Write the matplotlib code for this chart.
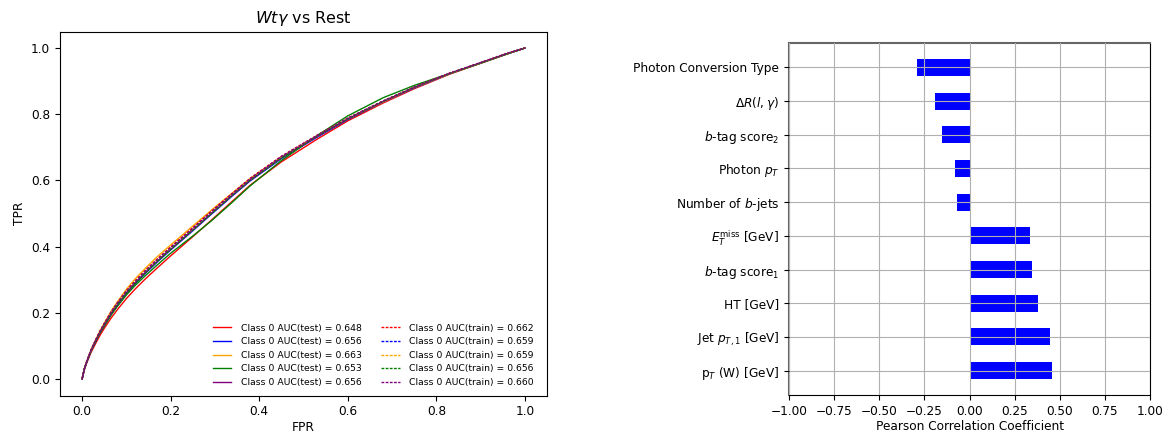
import matplotlib
matplotlib.use("Agg")
import matplotlib.pyplot as plt

plt.rcParams["font.size"] = 8.7

# ROC curves (common FPR grid)
fpr = [0, 0.005, 0.01, 0.02, 0.03, 0.04, 0.05, 0.066, 0.08, 0.10, 0.12, 0.141, 0.17, 0.2, 0.25,
	0.292, 0.34, 0.379, 0.45, 0.53, 0.6, 0.68, 0.75, 0.83, 0.9, 0.96, 1.0]

tpr_test_red = [0, 0.028, 0.047, 0.08, 0.106, 0.131, 0.153, 0.185, 0.21, 0.243, 0.272, 0.30, 0.336, 0.372,
	0.43, 0.48, 0.538, 0.585, 0.656, 0.724, 0.78, 0.834, 0.877, 0.921, 0.954, 0.982, 1.0]
tpr_test_blue = [0, 0.03, 0.05, 0.085, 0.112, 0.139, 0.162, 0.197, 0.224, 0.258, 0.288, 0.317, 0.354, 0.39,
	0.448, 0.498, 0.554, 0.598, 0.666, 0.73, 0.784, 0.837, 0.879, 0.922, 0.955, 0.983, 1.0]
tpr_test_orange = [0, 0.031, 0.052, 0.088, 0.117, 0.145, 0.169, 0.206, 0.234, 0.271, 0.303, 0.332, 0.37, 0.405,
	0.462, 0.51, 0.563, 0.605, 0.671, 0.733, 0.786, 0.837, 0.88, 0.922, 0.954, 0.983, 1.0]
tpr_test_green = [0, 0.03, 0.05, 0.085, 0.112, 0.138, 0.16, 0.194, 0.22, 0.254, 0.283, 0.31, 0.345, 0.38,
	0.432, 0.478, 0.535, 0.583, 0.66, 0.735, 0.795, 0.85, 0.887, 0.923, 0.954, 0.982, 1.0]
tpr_test_purple = [0, 0.03, 0.05, 0.085, 0.113, 0.14, 0.163, 0.198, 0.225, 0.26, 0.29, 0.319, 0.356, 0.392,
	0.45, 0.50, 0.556, 0.60, 0.668, 0.732, 0.785, 0.838, 0.88, 0.923, 0.955, 0.983, 1.0]

tpr_train_red = [0, 0.031, 0.052, 0.088, 0.117, 0.144, 0.168, 0.204, 0.231, 0.267, 0.297, 0.326, 0.363, 0.399,
	0.457, 0.507, 0.562, 0.606, 0.673, 0.736, 0.788, 0.84, 0.882, 0.924, 0.956, 0.984, 1.0]
tpr_train_blue = [0, 0.03, 0.051, 0.086, 0.115, 0.142, 0.165, 0.201, 0.228, 0.263, 0.293, 0.322, 0.359, 0.395,
	0.453, 0.503, 0.559, 0.603, 0.671, 0.734, 0.787, 0.839, 0.881, 0.923, 0.955, 0.983, 1.0]
tpr_train_orange = [0, 0.03, 0.051, 0.086, 0.115, 0.142, 0.166, 0.202, 0.229, 0.264, 0.294, 0.322, 0.359, 0.395,
	0.452, 0.502, 0.558, 0.602, 0.67, 0.734, 0.787, 0.839, 0.881, 0.923, 0.955, 0.983, 1.0]
tpr_train_green = [0, 0.03, 0.05, 0.085, 0.113, 0.14, 0.163, 0.199, 0.226, 0.26, 0.29, 0.319, 0.356, 0.392,
	0.45, 0.5, 0.556, 0.6, 0.668, 0.733, 0.786, 0.839, 0.881, 0.923, 0.955, 0.983, 1.0]
tpr_train_purple = [0, 0.031, 0.051, 0.087, 0.116, 0.143, 0.167, 0.203, 0.23, 0.265, 0.295, 0.324, 0.361, 0.397,
	0.455, 0.505, 0.56, 0.604, 0.672, 0.735, 0.788, 0.84, 0.882, 0.924, 0.956, 0.984, 1.0]

colors = ["red", "blue", "orange", "green", "purple"]
auc_test = [0.648, 0.656, 0.663, 0.653, 0.656]
auc_train = [0.662, 0.659, 0.659, 0.656, 0.660]
tpr_test = [tpr_test_red, tpr_test_blue, tpr_test_orange, tpr_test_green, tpr_test_purple]
tpr_train = [tpr_train_red, tpr_train_blue, tpr_train_orange, tpr_train_green, tpr_train_purple]

# Pearson correlations, top to bottom
features = [
	"Photon Conversion Type",
	r"$\Delta R(l, \gamma)$",
	r"$b$-tag score$_2$",
	r"Photon $p_T$",
	r"Number of $b$-jets",
	r"$E_T^{\rm miss}$ [GeV]",
	r"$b$-tag score$_1$",
	"HT [GeV]",
	r"Jet $p_{T,1}$ [GeV]",
	r"p$_T$ (W) [GeV]",
]
correlations = [-0.29, -0.19, -0.15, -0.08, -0.07, 0.335, 0.345, 0.38, 0.445, 0.455]

W, H = 1172, 434
fig = plt.figure(figsize=(11.72, 4.34), dpi=100)

ax1 = fig.add_axes([60 / W, (H - 395.5) / H, 487 / W, 364 / H])
for c, t, a in zip(colors, tpr_test, auc_test):
	ax1.plot(fpr, t, color=c, lw=1.0, label=f"Class 0 AUC(test) = {a:.3f}")
for c, t, a in zip(colors, tpr_train, auc_train):
	ax1.plot(fpr, t, color=c, lw=1.0, linestyle="--", dashes=(2, 1), label=f"Class 0 AUC(train) = {a:.3f}")
ax1.set_xlim(-0.05, 1.05)
ax1.set_ylim(-0.05, 1.05)
ax1.set_xlabel("FPR", labelpad=2)
ax1.set_ylabel("TPR")
ax1.set_title(r"$Wt\gamma$ vs Rest", fontsize=11.5)
ax1.legend(loc="lower right", ncol=2, fontsize=6.7, frameon=False,
	columnspacing=2.1, handletextpad=1.0, bbox_to_anchor=(0.99, 0.0))

ax2 = fig.add_axes([789 / W, (H - 395) / H, 361 / W, 352 / H])
ypos = list(range(len(features)))
ax2.barh(ypos, correlations, height=0.5, color="blue")
ax2.set_yticks(ypos)
ax2.set_yticklabels(features)
ax2.invert_yaxis()
ax2.set_xlim(-1, 1)
ax2.set_xticks([-1, -0.75, -0.5, -0.25, 0, 0.25, 0.5, 0.75, 1])
ax2.set_xlabel("Pearson Correlation Coefficient", labelpad=2)
ax2.grid(True, color="#b0b0b0")
ax2.set_axisbelow(False)
for s in ["top", "left"]:
	ax2.spines[s].set_color("#666666")
	ax2.spines[s].set_linewidth(1.5)

fig.savefig("out.png", dpi=100)
